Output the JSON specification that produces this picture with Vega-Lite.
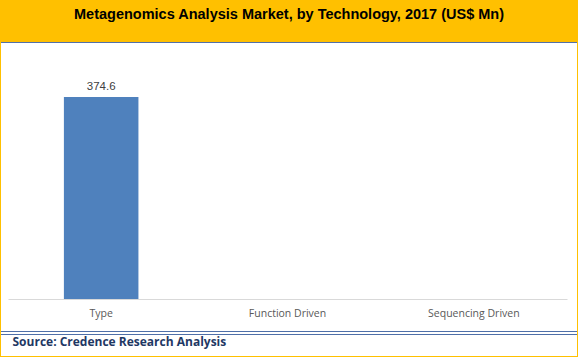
{
  "$schema": "https://vega.github.io/schema/vega-lite/v6.json",
  "autosize": {"type": "none"},
  "width": 576,
  "height": 314,
  "padding": {"left": 1, "right": 1, "top": 42, "bottom": 1},
  "background": "#FFC000",
  "title": {
    "text": "Metagenomics Analysis Market, by Technology, 2017 (US$ Mn)",
    "font": "Liberation Sans",
    "fontSize": 14.5,
    "fontWeight": "bold",
    "color": "#000000",
    "anchor": "middle",
    "frame": "group",
    "offset": 19
  },
  "config": {
    "view": {"fill": "#FFFFFF", "stroke": null}
  },
  "data": {
    "values": [
      {"Technology": "Type", "Value": 374.6},
      {"Technology": "Function Driven", "Value": 0},
      {"Technology": "Sequencing Driven", "Value": 0}
    ]
  },
  "layer": [
    {
      "mark": {"type": "bar", "color": "#4F81BD"},
      "encoding": {
        "x": {
          "field": "Technology",
          "type": "nominal",
          "sort": null,
          "scale": {"domain": ["Type", "Function Driven", "Sequencing Driven"], "range": [7, 566], "paddingInner": 0.6, "paddingOuter": 0.3},
          "axis": {
            "orient": "bottom",
            "offset": -57,
            "domainColor": "#D9D9D9",
            "domainWidth": 1,
            "ticks": false,
            "labelAngle": 0,
            "labelFont": "Open Sans",
            "labelFontSize": 10.5,
            "labelColor": "#595959",
            "labelPadding": 9,
            "title": "Source: Credence Research Analysis",
            "titleFont": "Open Sans",
            "titleFontSize": 12,
            "titleFontWeight": "bold",
            "titleColor": "#1F3864",
            "titleAnchor": "start",
            "titleAlign": "left",
            "titleBaseline": "middle",
            "titleX": 11,
            "titleY": 42
          }
        },
        "y": {
          "field": "Value",
          "type": "quantitative",
          "scale": {"domain": [-105.7, 476.6], "nice": false, "zero": false},
          "axis": null
        }
      }
    },
    {
      "transform": [{"filter": "datum.Value > 0"}],
      "mark": {"type": "text", "baseline": "bottom", "dy": -5, "font": "Liberation Sans", "fontSize": 11.5, "color": "#404040"},
      "encoding": {
        "x": {"field": "Technology", "type": "nominal", "sort": null},
        "y": {"field": "Value", "type": "quantitative"},
        "text": {"field": "Value", "type": "quantitative", "format": ".1f"}
      }
    },
    {
      "data": {"values": [{"level": 475.7}, {"level": -60.27}, {"level": -65.83}]},
      "mark": {"type": "rule", "color": "#4F6FA8", "strokeWidth": 1},
      "encoding": {
        "y": {"field": "level", "type": "quantitative"}
      }
    }
  ]
}
